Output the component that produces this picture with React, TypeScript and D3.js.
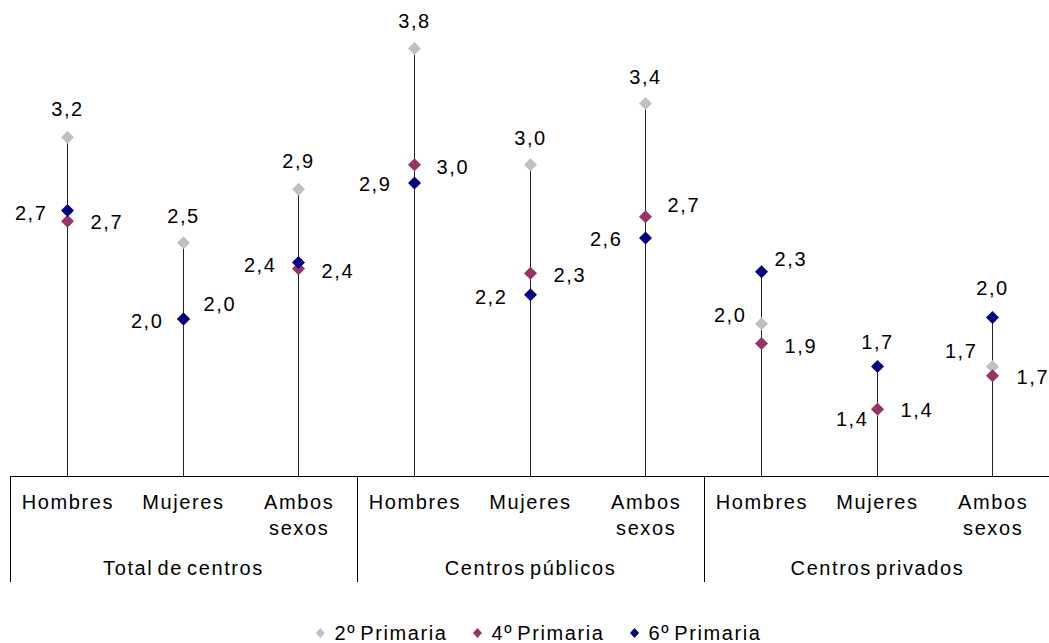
import React, { useEffect, useRef } from "react";
import * as d3 from "d3";

const groups = ["Total de centros", "Centros públicos", "Centros privados"];
const subCategories = ["Hombres", "Mujeres", "Ambos sexos"];
const seriesNames = ["2º Primaria", "4º Primaria", "6º Primaria"];

const primaria2 = [3.22, 2.53, 2.88, 3.8, 3.04, 3.44, 2.0, 1.44, 1.72];
const primaria4 = [2.67, 2.03, 2.36, 3.04, 2.33, 2.7, 1.87, 1.44, 1.66];
const primaria6 = [2.74, 2.03, 2.4, 2.92, 2.19, 2.56, 2.34, 1.72, 2.04];

const seriesColors = ["#C0C0C0", "#993366", "#000080"];

// label placement: [anchor, dx, dy]
type Place = [string, number, number];
const labels2: Place[] = [
  ["middle", 0, -28], ["middle", 0, -27], ["middle", 0, -28],
  ["middle", 0, -28], ["middle", 0, -27], ["middle", 0, -27],
  ["end", -15, -9], ["end", -9, 10], ["end", -15, -15],
];
const labels4: Place[] = [
  ["start", 23, 1], ["start", 20, -15], ["start", 23, 2],
  ["start", 22, 2], ["start", 23, 2], ["start", 22, -12],
  ["start", 23, 2], ["start", 23, 1], ["start", 24, 1],
];
const labels6: Place[] = [
  ["end", -20, 2], ["end", -20, 2], ["end", -22, 2],
  ["end", -23, 1], ["end", -23, 2], ["end", -23, 1],
  ["start", 13, -13], ["middle", 0, -24], ["middle", 0, -30],
];

const W = 1049;
const H = 643;
const FONT = "'Liberation Sans', Arial, sans-serif";
const FS = 20;
const LS = 1.6;
const WS = -3;

function diamond(cx: number, cy: number, rx: number, ry: number) {
  return `M${cx},${cy - ry}L${cx + rx},${cy}L${cx},${cy + ry}L${cx - rx},${cy}Z`;
}

export default function App() {
  const ref = useRef<SVGSVGElement>(null);

  useEffect(() => {
    const svg = d3.select(ref.current);
    svg.selectAll("*").remove();

    const cats: string[] = [];
    groups.forEach((g) => subCategories.forEach((s) => cats.push(g + "|" + s)));

    const x = d3.scaleBand<string>().domain(cats).range([10, 1051]).padding(0);
    const y = d3.scaleLinear().domain([1, 4]).range([476.5, 18]);
    const baseY = y(1);
    const fmt = (v: number) => d3.format(".1f")(v).replace(".", ",");
    const cxOf = (c: string) => Math.round(x(c)! + x.bandwidth() / 2) - 0.5;

    const series = [primaria2, primaria4, primaria6];
    const labelSets = [labels2, labels4, labels6];

    const styleText = (t: any) =>
      t.attr("font-family", FONT)
        .attr("font-size", FS)
        .attr("letter-spacing", LS)
        .attr("word-spacing", WS)
        .attr("fill", "#000");

    // stems
    svg.append("g")
      .selectAll("line")
      .data(cats)
      .join("line")
      .attr("x1", (c) => cxOf(c))
      .attr("x2", (c) => cxOf(c))
      .attr("y1", baseY)
      .attr("y2", (_c, i) => y(Math.max(primaria2[i], primaria4[i], primaria6[i])))
      .attr("stroke", "#222")
      .attr("stroke-width", 1);

    // axis
    svg.append("line")
      .attr("x1", 10).attr("x2", W).attr("y1", baseY).attr("y2", baseY)
      .attr("stroke", "#000").attr("stroke-width", 1);

    const groupBand = d3.scaleBand<string>().domain(groups).range([10, 1051]);
    groups.forEach((g) => {
      const gx = Math.round(groupBand(g)!) + 0.5;
      svg.append("line")
        .attr("x1", gx).attr("x2", gx).attr("y1", baseY).attr("y2", 582)
        .attr("stroke", "#000").attr("stroke-width", 1);
      styleText(svg.append("text")
        .attr("x", groupBand(g)! + groupBand.bandwidth() / 2)
        .attr("y", 575)
        .attr("text-anchor", "middle"))
        .text(g);
    });

    // category labels
    cats.forEach((c) => {
      const sub = c.split("|")[1];
      const lines = sub === "Ambos sexos" ? ["Ambos", "sexos"] : [sub];
      const t = styleText(svg.append("text")
        .attr("x", x(c)! + x.bandwidth() / 2)
        .attr("y", 509)
        .attr("text-anchor", "middle"));
      lines.forEach((l, i) => {
        t.append("tspan")
          .attr("x", x(c)! + x.bandwidth() / 2)
          .attr("dy", i === 0 ? 0 : 26)
          .text(l);
      });
    });

    // points
    series.forEach((vals, si) => {
      const g = svg.append("g");
      g.selectAll("path")
        .data(vals)
        .join("path")
        .attr("d", (v, i) => diamond(cxOf(cats[i]), y(v), 6.5, 6.5))
        .attr("fill", seriesColors[si]);
    });

    // labels
    series.forEach((vals, si) => {
      vals.forEach((v, i) => {
        const [anchor, dx, dy] = labelSets[si][i];
        const cx = cxOf(cats[i]);
        styleText(svg.append("text")
          .attr("x", cx + dx)
          .attr("y", y(v) + dy + 7)
          .attr("text-anchor", anchor))
          .text(fmt(v));
      });
    });

    // legend
    const leg = svg.append("g");
    let cursor = 0;
    seriesNames.forEach((n, i) => {
      const g = leg.append("g").attr("transform", `translate(${cursor},0)`);
      g.append("path").attr("d", diamond(0, 633, 4.5, 5)).attr("fill", seriesColors[i]);
      const t = styleText(g.append("text").attr("x", 14).attr("y", 640)).text(n);
      const tw = (t.node() as SVGTextElement).getComputedTextLength();
      cursor += 14 + tw + 30;
    });
    const totalW = cursor - 30;
    leg.attr("transform", `translate(${537 - totalW / 2 + 4},0)`);
  }, []);

  return (
    <svg
      ref={ref}
      width={W}
      height={H}
      style={{ position: "absolute", left: 0, top: 0, background: "#fff" }}
    />
  );
}
